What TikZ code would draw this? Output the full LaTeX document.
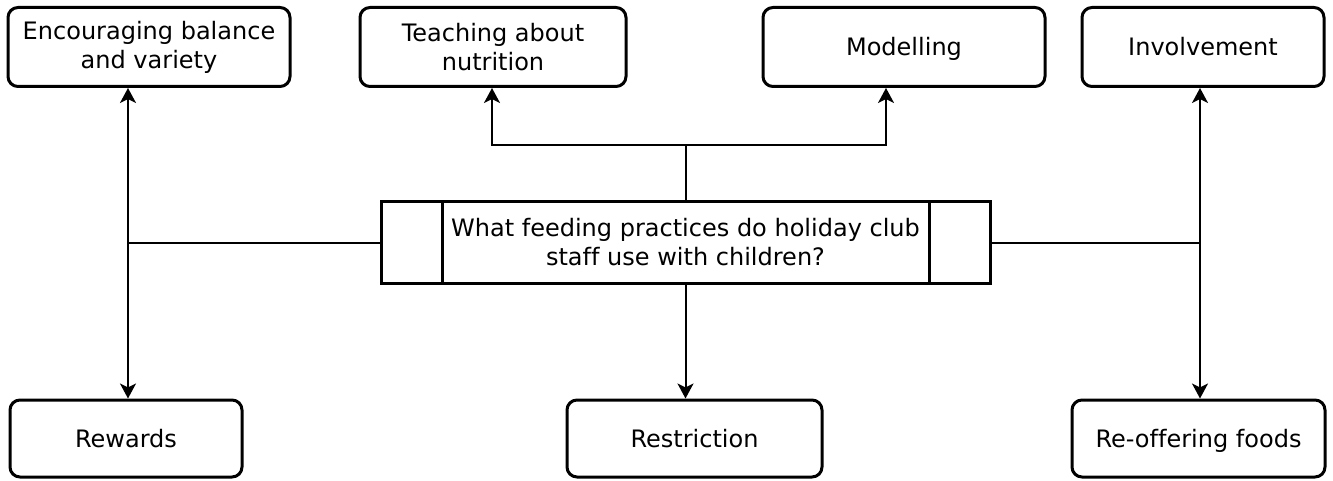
\documentclass[tikz,border=0pt]{standalone}
\usepackage{fontspec}
\setmainfont[Ligatures=NoCommon]{DejaVu Sans}
\usetikzlibrary{arrows.meta}
\begin{document}
\begin{tikzpicture}[x=1pt,y=-1pt,
  txt/.style={align=center,font=\fontsize{24}{29}\selectfont},
  box/.style={txt,draw,line width=3pt,rounded corners=10pt,inner sep=0pt},
  one/.style={text height=20pt,text depth=3pt},
  link/.style={line width=2pt},
  arr/.style={link,-{Stealth[length=15pt,width=16pt,inset=4pt]}},
  darr/.style={link,{Stealth[length=15pt,width=16pt,inset=4pt]}-{Stealth[length=15pt,width=16pt,inset=4pt]}}]
\useasboundingbox (0,0) rectangle (1333,481);
\node[box,minimum width=282pt,minimum height=79pt] (enc) at (149,47) {Encouraging balance\\and variety};
\node[box,minimum width=266pt,minimum height=79pt] (teach) at (493,47) {Teaching about\\nutrition};
\node[box,one,minimum width=282pt,minimum height=79pt] (mod) at (904,47) {Modelling};
\node[box,one,minimum width=242pt,minimum height=79pt] (inv) at (1203,47) {Involvement};
\node[box,one,minimum width=232pt,minimum height=77pt] (rew) at (126,438.5) {Rewards};
\node[box,one,minimum width=255pt,minimum height=77pt] (res) at (694.5,438.5) {Restriction};
\node[box,one,minimum width=253pt,minimum height=77pt] (reo) at (1198.5,438.5) {Re-offering foods};
\node[draw,line width=3pt,minimum width=609pt,minimum height=81pt,inner sep=0pt] (q) at (685.5,242.5) {};
\node[txt] (qt) at (685.5,242.5) {What feeding practices do holiday club\\staff use with children?};
\draw[line width=3pt] (442,202) coordinate (l1) -- (442,283) coordinate (l2);
\draw[line width=3pt] (929,202) coordinate (r1) -- (929,283) coordinate (r2);
% left
\coordinate (lj) at (128,242.5);
\draw[link] (q.west) -- (lj);
\draw[darr] (enc.south -| lj) -- (rew.north -| lj);
% right
\coordinate (rj) at (1200,242.5);
\draw[link] (q.east) -- (rj);
\draw[darr] (inv.south -| rj) -- (reo.north -| rj);
% top
\coordinate (tj) at (685.5,145);
\coordinate (tl) at (492,145);
\coordinate (tr) at (886,145);
\draw[link] (q.north) -- (tj);
\draw[arr] (tj) -- (tl) -- (tl |- teach.south);
\draw[arr] (tj) -- (tr) -- (tr |- mod.south);
% bottom
\draw[arr] (q.south) -- (q.south |- res.north);
\end{tikzpicture}
\end{document}
